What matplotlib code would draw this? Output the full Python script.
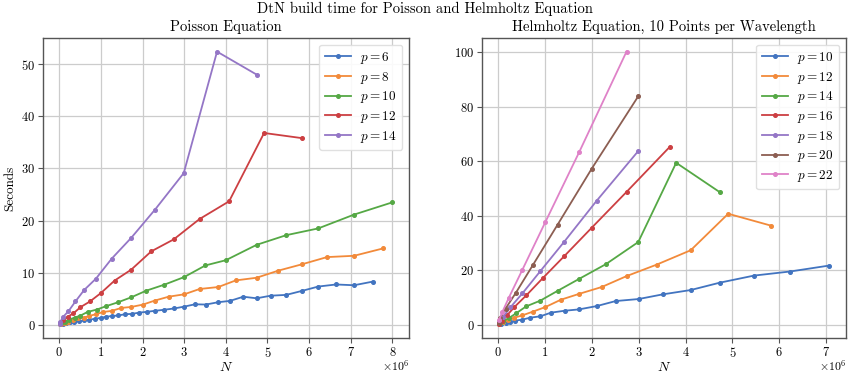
import matplotlib
matplotlib.use("Agg")
import matplotlib.pyplot as plt
import numpy as np

plt.rcParams.update({
    "font.family": "serif",
    "font.serif": ["cmr10", "DejaVu Serif"],
    "mathtext.fontset": "cm",
    "axes.unicode_minus": False,
    "axes.formatter.use_mathtext": True,
})

colors = ["#4274c0", "#f28a3a", "#55a845", "#cc3f42", "#9476c6", "#8c5e52", "#df82c8"]

# ---------------- Poisson data (N in units of 1e6) ----------------
poisson_p = [6, 8, 10, 12, 14]
poisson_N6 = [0.01, 0.04, 0.09, 0.16, 0.25, 0.36, 0.48, 0.6, 0.72, 0.85, 1.0, 1.12, 1.26, 1.42,
              1.58, 1.74, 1.92, 2.1, 2.3, 2.52, 2.76, 3.0, 3.26, 3.52, 3.82, 4.1, 4.42, 4.74,
              5.08, 5.45, 5.82, 6.22, 6.65, 7.08, 7.53]
poisson_T6 = [0.1, 0.15, 0.25, 0.35, 0.5, 0.6, 0.75, 0.85, 1.0, 1.15, 1.35, 1.55, 1.7, 1.8,
              2.05, 2.1, 2.35, 2.5, 2.7, 2.9, 3.15, 3.5, 3.95, 3.9, 4.35, 4.6, 5.4, 5.1,
              5.6, 5.75, 6.5, 7.35, 7.75, 7.6, 8.3]
poisson_N8 = [0.01, 0.05, 0.13, 0.22, 0.34, 0.46, 0.59, 0.72, 0.88, 1.06, 1.26, 1.49, 1.73,
              2.01, 2.29, 2.63, 3.0, 3.37, 3.82, 4.24, 4.74, 5.26, 5.82, 6.43, 7.08, 7.77]
poisson_T8 = [0.1, 0.2, 0.38, 0.64, 0.96, 1.27, 1.4, 1.72, 2.04, 2.48, 2.68, 3.25, 3.44,
              3.89, 4.65, 5.41, 5.86, 6.88, 7.26, 8.53, 9.04, 10.4, 11.6, 13.0, 13.25, 14.65]
poisson_N10 = [0.04, 0.13, 0.24, 0.37, 0.51, 0.68, 0.9, 1.12, 1.41, 1.73, 2.09, 2.52, 3.0,
               3.51, 4.0, 4.74, 5.45, 6.22, 7.08, 8.0]
poisson_T10 = [0.3, 0.64, 1.02, 1.4, 1.78, 2.48, 2.93, 3.57, 4.33, 5.29, 6.56, 7.7, 9.17,
               11.4, 12.4, 15.35, 17.2, 18.5, 21.15, 23.5]
poisson_N12 = [0.02, 0.1, 0.21, 0.34, 0.51, 0.74, 1.0, 1.33, 1.73, 2.21, 2.75, 3.37, 4.08,
               4.92, 5.84]
poisson_T12 = [0.4, 0.9, 1.6, 2.2, 3.4, 4.5, 6.1, 8.5, 10.6, 14.1, 16.4, 20.3, 23.7, 36.8, 35.8]
poisson_N14 = [0.01, 0.03, 0.1, 0.22, 0.39, 0.6, 0.88, 1.26, 1.73, 2.3, 2.99, 3.79, 4.74]
poisson_T14 = [0.25, 0.64, 1.6, 2.6, 4.5, 6.7, 8.85, 12.7, 16.7, 22.1, 29.1, 52.4, 48.0]

# ---------------- Helmholtz data (N in units of 1e6) ----------------
helm_p = [10, 12, 14, 16, 18, 20, 22]
helm_N10 = [0.01, 0.07, 0.16, 0.26, 0.37, 0.51, 0.69, 0.9, 1.13, 1.42, 1.73, 2.11, 2.51,
            3.0, 3.51, 4.11, 4.73, 5.46, 6.23, 7.07]
helm_T10 = [0.1, 0.37, 0.73, 1.1, 1.46, 1.83, 2.56, 3.05, 4.4, 5.1, 5.6, 6.83, 8.66,
            9.4, 11.1, 12.7, 15.4, 18.0, 19.5, 21.7]
helm_N12 = [0.03, 0.11, 0.21, 0.35, 0.52, 0.74, 1.01, 1.34, 1.73, 2.21, 2.74, 3.38, 4.11,
            4.91, 5.83]
helm_T12 = [0.37, 0.98, 1.7, 2.56, 3.41, 4.76, 6.46, 9.15, 11.3, 13.8, 17.8, 22.0, 27.3,
            40.7, 36.3]
helm_N14 = [0.04, 0.11, 0.23, 0.38, 0.6, 0.9, 1.27, 1.73, 2.3, 2.99, 3.8, 4.74]
helm_T14 = [0.6, 1.3, 2.4, 4.1, 6.7, 8.8, 12.4, 16.8, 22.2, 30.3, 59.4, 48.5]
helm_N16 = [0.02, 0.08, 0.19, 0.35, 0.6, 0.95, 1.41, 2.0, 2.74, 3.66]
helm_T16 = [0.4, 1.3, 3.4, 6.5, 10.7, 17.0, 25.1, 35.6, 48.7, 65.2]
helm_N18 = [0.03, 0.11, 0.26, 0.52, 0.9, 1.41, 2.1, 2.99]
helm_T18 = [1.0, 2.9, 6.3, 11.5, 19.6, 30.4, 45.4, 63.7]
helm_N20 = [0.01, 0.05, 0.16, 0.38, 0.74, 1.27, 2.0, 2.99]
helm_T20 = [0.7, 2.6, 5.9, 11.7, 21.8, 36.7, 57.3, 83.8]
helm_N22 = [0.02, 0.09, 0.23, 0.52, 1.01, 1.73, 2.74]
helm_T22 = [1.7, 4.6, 9.9, 20.2, 37.7, 63.3, 100.2]

poisson_series = [(poisson_N6, poisson_T6), (poisson_N8, poisson_T8), (poisson_N10, poisson_T10),
                  (poisson_N12, poisson_T12), (poisson_N14, poisson_T14)]
helm_series = [(helm_N10, helm_T10), (helm_N12, helm_T12), (helm_N14, helm_T14),
               (helm_N16, helm_T16), (helm_N18, helm_T18), (helm_N20, helm_T20),
               (helm_N22, helm_T22)]

fig = plt.figure(figsize=(8.5, 3.78), dpi=100)
ax1 = fig.add_axes([43/850, 40/378, 366/850, 300/378])
ax2 = fig.add_axes([482/850, 40/378, 364/850, 300/378])


def style(ax):
    ax.grid(True, color="#cccccc", linewidth=0.9)
    ax.set_axisbelow(True)
    for s in ax.spines.values():
        s.set_color("#555555")
        s.set_linewidth(1.0)
    ax.tick_params(direction="out", length=3.5, width=0.8, color="#555555",
                   labelsize=9, pad=2)
    ax.xaxis.get_offset_text().set_visible(False)
    ax.text(1.0, -0.068, r"$\times10^{6}$", transform=ax.transAxes,
            ha="right", va="top", fontsize=8.5)


for (p, (n, t)), c in zip(zip(poisson_p, poisson_series), colors):
    ax1.plot(np.array(n) * 1e6, t, "-o", color=c, lw=1.3, ms=2.6, label=f"$p = {p}$")
for (p, (n, t)), c in zip(zip(helm_p, helm_series), colors):
    ax2.plot(np.array(n) * 1e6, t, "-o", color=c, lw=1.3, ms=2.6, label=f"$p = {p}$")

ax1.set_xticks(np.arange(0, 9) * 1e6)
ax1.set_yticks([0, 10, 20, 30, 40, 50])
ax2.set_xticks(np.arange(0, 8) * 1e6)
ax2.set_yticks([0, 20, 40, 60, 80, 100])

for ax in (ax1, ax2):
    style(ax)
    ax.set_xlabel("$N$", fontsize=10, labelpad=1)
    ax.legend(loc="upper right", fontsize=9.5, framealpha=0.9, edgecolor="#dddddd",
              handlelength=2.0, handletextpad=0.7, borderpad=0.4, labelspacing=0.28)

ax1.set_ylabel("Seconds", fontsize=9.5)
ax1.set_title("Poisson Equation", fontsize=10.5, pad=5)
ax2.set_title("Helmholtz Equation, 10 Points per Wavelength", fontsize=10.5, pad=5)
fig.suptitle("DtN build time for Poisson and Helmholtz Equation", fontsize=10.5, y=0.995)

fig.savefig("out.png", dpi=100)
